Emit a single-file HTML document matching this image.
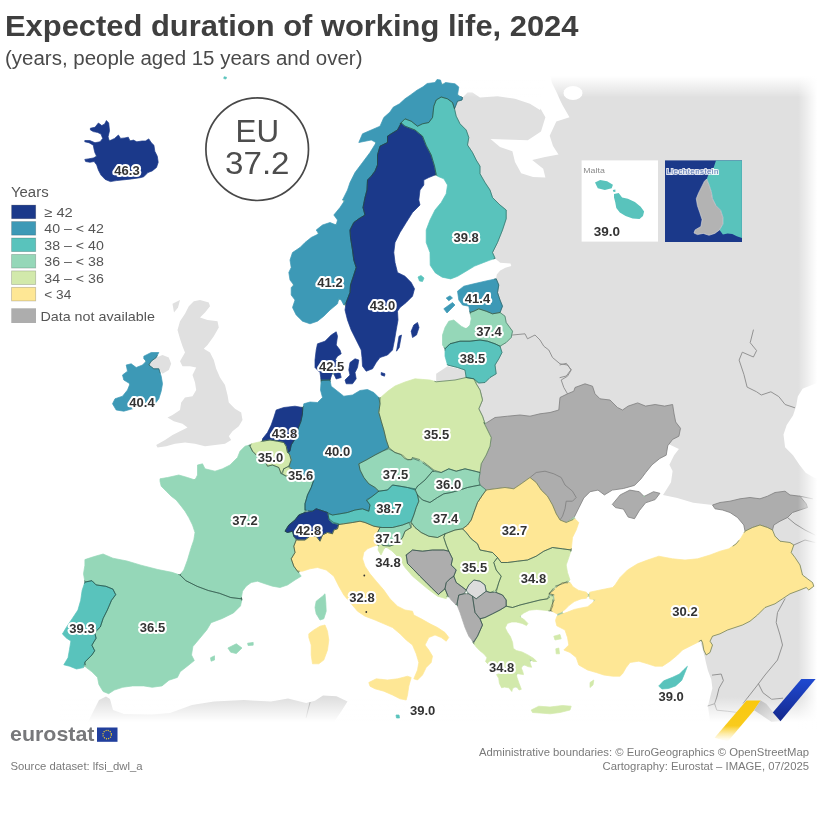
<!DOCTYPE html>
<html><head><meta charset="utf-8"><title>Expected duration of working life, 2024</title>
<style>
html,body{margin:0;padding:0;background:#fff;}
body{width:820px;height:820px;position:relative;overflow:hidden;font-family:"Liberation Sans",sans-serif;}
.t{position:absolute;white-space:nowrap;transform-origin:0 0;}
#title{left:4.6px;top:9.3px;font-size:30px;font-weight:bold;color:#3f3f3f;transform:scaleX(1.030);}
#sub{left:5px;top:47.1px;font-size:20px;color:#4a4a4a;transform:scaleX(1.024);}
svg{position:absolute;left:0;top:0;}
#wrap{position:absolute;left:0;top:0;width:820px;height:820px;filter:blur(.7px);}
.lab{font:bold 13px "Liberation Sans",sans-serif;fill:#333;stroke:#fff;stroke-width:4.1px;paint-order:stroke;stroke-linejoin:round;text-anchor:middle;}
.leg{font:13.5px "Liberation Sans",sans-serif;fill:#555;}
.foot{font:11px "Liberation Sans",sans-serif;fill:#7a7a7a;}
</style></head><body>
<div id="wrap">
<div class="t" id="title">Expected duration of working life, 2024</div>
<div class="t" id="sub">(years, people aged 15 years and over)</div>
<svg width="820" height="820" viewBox="0 0 820 820">
<defs>
<linearGradient id="fT" x1="0" y1="0" x2="0" y2="1"><stop offset="0" stop-color="#fff" stop-opacity="1"/><stop offset="1" stop-color="#fff" stop-opacity="0"/></linearGradient>
<linearGradient id="fB" x1="0" y1="1" x2="0" y2="0"><stop offset="0" stop-color="#fff" stop-opacity="1"/><stop offset="1" stop-color="#fff" stop-opacity="0"/></linearGradient>
<linearGradient id="fR" x1="1" y1="0" x2="0" y2="0"><stop offset="0" stop-color="#fff" stop-opacity="1"/><stop offset="1" stop-color="#fff" stop-opacity="0"/></linearGradient>
<linearGradient id="gy" x1="0" y1="0" x2="0" y2="1"><stop offset="0" stop-color="#f9c80e"/><stop offset=".62" stop-color="#f9cb1c"/><stop offset="1" stop-color="#fde27a" stop-opacity="0"/></linearGradient>
<linearGradient id="gb" x1="0" y1="0" x2="0" y2="1"><stop offset="0" stop-color="#1f49d1"/><stop offset="1" stop-color="#14288c"/></linearGradient>
<linearGradient id="gg" x1="0" y1="0" x2="1" y2="1"><stop offset="0" stop-color="#b9b9b9"/><stop offset="1" stop-color="#f2f2f2"/></linearGradient>
</defs>

<g>
<path d="M462.5 97.5 L467.5 92.5 L472.5 92.5 L480 97.5 L497.5 96.2 L515 98.7 L530 103.7 L540 110 L546 100 L546 76 L820 76 L820 722 L710 722 L709.1 714.6 L708 705.8 L710.2 697 L712.4 688.3 L711.3 679.5 L708 670.7 L705.8 662 L704.7 656.5 L700 640 L690 600 L720 560 L750 532 L742 519.5 L731 511.5 L722 508.5 L715 507 L712.5 505 L693.2 502.8 L677.3 498 L663 494.9 L666.2 490.1 L671 482.2 L672.6 471.1 L669.4 464.8 L674.1 455.2 L678.9 448.9 L660 440 L600 430 L520 430 L470 420 L468 372 L485 330 L488 295 L496 278.9 L496.8 274.6 L500.2 270.4 L505.4 267.8 L511.3 266.1 L510.5 263.5 L500.2 262.7 L495.1 258.4 L490 245 L492 220 L472 175 L455 125 L451 108 L455 101Z" fill="#e0e0e0"/>
<path d="M88 722 L99 700 L106 696.5 L110 699 L113 710 L124 714 L152 714.5 L170 713 L192 705 L214 701.6 L244 700 L271 701.6 L288 698.5 L306 703 L315 700.7 L323 695.5 L336.5 696.3 L347.5 701.6 L341 711.7 L334 722Z" fill="#dedede"/>
<path d="M541 109.5 L541 100 L546 76 L550.5 76 L552 83 L556.5 92 L560 100 L563 106 L569.5 117.2 L556.3 121.6 L549.7 135.8 L553 146 L558.5 154.5 L545 157 L532.2 160 L543.2 168.8 L545.4 177.5 L533 177 L521.2 173.2 L515 162 L512.4 151.2 L500 147 L490.5 139.1 L505 139.5 L527.8 140.2 L541 131.5 L545.4 117.2Z" fill="#ffffff"/>
<path d="M582.5 93 L581.8 95.7 L579.7 97.9 L576.6 99.5 L573 100 L569.4 99.5 L566.3 97.9 L564.2 95.7 L563.5 93 L564.2 90.3 L566.3 88.1 L569.4 86.5 L573 86 L576.6 86.5 L579.7 88.1 L581.8 90.3Z" fill="#ffffff"/>
<path d="M823.2 380.7 L810.5 385.5 L802.6 388.7 L797.8 396.6 L796.2 406.1 L793 415.6 L786.7 425.1 L783.5 434.6 L785.1 447.3 L793 455.2 L799.4 464.8 L805.7 472.7 L813.7 477.4 L823.2 479.7Z" fill="#ffffff"/>
</g>
<g fill="none" stroke-linejoin="round" stroke-linecap="round">
<path d="M512.5 335 L525 333.8 L527.5 338.8 L535 335 L540 340 L543.8 346.2 L548.8 350 L552.5 357.5 L560 363.8 L567.5 365 L571.2 370 L567.5 376.2 L561.2 380 L563.8 387.5 L567.5 393.8" stroke="#8e8e8e" stroke-width="0.95"/>
<path d="M476.2 383.8 L480 390 L482.5 400 L478.8 408.8 L482.5 416.2 L485 423.8" stroke="#8e8e8e" stroke-width="0.95"/>
<path d="M753.4 330 L750.2 342.7 L756.6 350.6 L753.4 357 L742.3 352.2 L739.1 360.1 L743.9 374.4 L747.1 387.1 L756.6 391.8 L761.3 395 L770.9 391.8 L778.8 396.6 L785.1 404.5 L794.6 407.7" stroke="#8e8e8e" stroke-width="0.95"/>
<path d="M560 364.9 L566.3 363.3 L571.1 369.6 L566.3 376 L560 377.6" stroke="#8e8e8e" stroke-width="0.95"/>
<path d="M785 598.8 L777.5 612.5 L776.2 622.5 L780 635 L782.5 645 L777.5 660 L765 675 L757.5 685 L749.8 694.9 L743.2 703.2" stroke="#8e8e8e" stroke-width="0.95"/>
<path d="M758.5 683.9 L762.9 692.7 L771.7 699.3 L782.7 698.2" stroke="#8e8e8e" stroke-width="0.95"/>
<path d="M712.4 675.1 L721.2 674 L723.4 680.6 L719 688.3 L716.8 697.1 L714.6 703.7 L708 705.9" stroke="#8e8e8e" stroke-width="0.95"/>
<path d="M714.6 703.7 L716.8 710.2 L727.8 711.3 L736.6 712.4" stroke="#8e8e8e" stroke-width="0.95"/>
<path d="M775 536.2 L780 541.2" stroke="#8e8e8e" stroke-width="0.95"/>
<path d="M787.5 517.5 L795 523.8 L805 530 L815 535" stroke="#8e8e8e" stroke-width="0.95"/>
<path d="M793.8 545 L805 540 L815 542.5" stroke="#8e8e8e" stroke-width="0.95"/>
<path d="M800 496.2 L812.5 498.8" stroke="#8e8e8e" stroke-width="0.95"/>
<path d="M310 702.5 L308 710 L306.2 717.5" stroke="#888" stroke-width="0.7"/>
</g>
<g stroke="#7d7d7d" stroke-width=".8" stroke-linejoin="round">
<path d="M485 423.8 L495 417.5 L507.5 416.2 L520 415 L530 416.2 L540 413.8 L550 412.5 L558.8 410 L560 397.5 L567.5 393.8 L573.8 391.2 L575 387.5 L585 383.8 L592.5 386.2 L595 393.8 L600 398.8 L610 400 L617.5 407.5 L622.5 410 L628.2 406.1 L637.7 402.9 L645.6 406.1 L655.1 404.5 L664.6 406.1 L672.6 404.5 L674.1 414 L675.7 422 L680.5 428.3 L678.9 436.2 L672.6 439.4 L667.8 445.7 L666.2 455.2 L659.9 458.4 L652 464.8 L645.6 472.7 L640.9 479 L634.5 485.4 L623.4 488.5 L612.3 490.1 L604.4 494.9 L598 490.1 L590.1 491.7 L583.8 498 L579 507.6 L574.3 517.1 L566.2 522.5 L560 520 L556.2 513.8 L552.5 505 L547.5 496.2 L541.2 490 L536.2 482.5 L530 477.5 L521.2 483.8 L513.8 488.8 L505 487.5 L495 488.8 L486.2 490 L480 485 L478.8 480 L480 472.5 L481.2 463.8 L486.2 455 L490 446.2 L491.2 437.5 L487.5 430 L483.8 422.5Z" fill="#adadad"/>
<path d="M530 477.5 L536.2 472.5 L545 471.2 L553.8 473.8 L561.2 477.5 L565 485 L572.5 491.2 L576.2 497.5 L572.5 501.2 L566.2 501.2 L565 508.8 L562.5 516.2 L560 520 L556.2 513.8 L552.5 505 L547.5 496.2 L541.2 490 L536.2 482.5Z" fill="#adadad"/>
<path d="M612.3 504.4 L620.2 494.9 L629.8 490.1 L639.3 491.7 L644 496.5 L653.5 491.7 L659.9 493.3 L655.1 499.6 L645.6 502.8 L639.3 510.7 L634.5 518.7 L628.2 517.1 L623.4 509.1 L615.5 507.6Z" fill="#adadad"/>
<path d="M712.5 505 L720 502.5 L730 501.2 L740 498.8 L750 497.5 L760 498.8 L767.5 496.2 L775 492.5 L785 491.2 L790 495 L800 496.2 L806.2 503.8 L807.5 507.5 L800 510 L792.5 512.5 L787.5 517.5 L780 521.2 L773.8 525 L772.5 530 L767.5 527.5 L760 525 L752.5 527.5 L745 531.2 L743.8 525 L737.5 517.5 L730 512.5 L722.5 510 L715 508.8Z" fill="#adadad"/>
</g>
<rect x="430" y="76" width="390" height="21.5" fill="url(#fT)"/><rect x="430" y="60" width="390" height="16.2" fill="#fff"/>
<rect x="798" y="70" width="19.2" height="660" fill="url(#fR)"/><rect x="817" y="70" width="3" height="660" fill="#fff"/>
<rect x="60" y="697" width="760" height="25" fill="url(#fB)"/>
<g>
<path d="M151.2 361.2 L156.2 357.5 L162.5 355 L168.8 357.5 L171.2 363.8 L168.8 370 L162.5 373.8 L158.8 368.8 L153.8 368.8 L148.8 365Z" fill="#e0e0e0"/>
<path d="M193.8 301.2 L200 300 L208.8 302.5 L210 306.2 L205 312.5 L200 317.5 L207.5 320 L217.5 321.2 L218.8 327.5 L213.8 336.2 L207.5 345 L203.8 348.8 L210 352.5 L213.8 360 L216.2 368.8 L220 377.5 L225 385 L227.5 395 L228.8 402.5 L235 408.8 L241.2 412.5 L242.5 420 L238.8 426.2 L232.5 431.2 L228.8 436.2 L231.2 440 L225 443.8 L215 445 L205 446.2 L195 443.8 L185 442.5 L175 443.8 L166.2 446.2 L157.5 447.5 L156.2 445 L165 440 L172.5 435 L180 431.2 L187.5 427.5 L182.5 423.8 L173.8 421.2 L167.5 417.5 L172.5 415 L180 410 L181.2 402.5 L185 397.5 L192.5 396.2 L196.2 390 L195 382.5 L192.5 375 L196.2 367.5 L190 366.2 L182.5 366.2 L180 361.2 L185 352.5 L182.5 346.2 L180 338.8 L177.5 330 L180 321.2 L185 313.8 L188.8 306.2Z" fill="#e0e0e0"/>
<path d="M172.5 303.8 L180 300 L178 307.5 L174 312.5Z" fill="#e0e0e0"/>
<path d="M436.2 373.8 L447.5 366.2 L465 370 L466.2 377.5 L455 380 L436.2 382Z" fill="#e0e0e0"/>
</g>
<path d="M110.9 140.0 L109.6 139.9 L109.0 139.1 L108.4 139.3 L109.1 141.4 L110.9 140.6 L110.9 140.0Z M131.4 140.5 L130.3 140.2 L129.7 139.6 L129.2 139.9 L129.9 141.4 L131.4 141.0 L131.4 140.5Z M95.8 154.9 L95.8 156.1 L95.1 156.8 L95.5 157.3 L97.1 156.4 L96.4 154.8 L95.8 154.9Z M317.6 232.3 L317.7 233.6 L317.1 234.4 L317.4 234.9 L319.2 233.8 L318.2 232.2 L317.6 232.3Z M292.8 283.9 L292.9 285.1 L292.6 285.8 L293.0 286.2 L294.2 285.0 L293.3 283.7 L292.8 283.9Z M144.9 360.1 L145.3 361.3 L144.9 362.2 L145.4 362.5 L146.6 361.2 L145.4 359.9 L144.9 360.1Z M150.1 365.8 L149.6 364.7 L149.8 363.8 L149.3 363.6 L148.4 365.1 L149.7 366.1 L150.1 365.8Z M336.2 372.7 L335.8 372.1 L335.9 371.4 L336.5 370.8 L336.4 370.4 L335.9 370.3 L332.2 372.2 L331.4 374.7 L331.7 375.1 L333.1 374.3 L334.3 375.0 L334.6 374.6 L334.4 374.1 L337.2 373.4 L337.2 372.8 L336.2 372.7Z M129.3 384.1 L129.2 385.0 L129.8 385.2 L130.3 383.6 L129.0 382.8 L128.7 383.2 L129.3 384.1Z M302.5 412.9 L302.9 412.6 L303.8 406.3 L303.4 405.9 L302.7 406.8 L301.8 407.0 L301.5 407.4 L302.1 407.8 L302.1 412.5 L302.5 412.9Z M297.9 430.2 L301.6 421.3 L302.3 416.3 L302.0 415.8 L301.6 416.1 L300.4 421.1 L297.1 429.9 L297.4 430.4 L297.9 430.2Z M261.1 441.3 L261.3 441.8 L262.9 441.4 L262.8 439.9 L262.4 439.8 L261.1 441.3Z M251.0 443.9 L249.6 444.9 L249.6 446.3 L249.9 446.6 L250.3 446.4 L251.3 444.4 L251.0 443.9Z M289.2 452.5 L289.5 451.7 L289.1 451.3 L287.1 452.5 L289.5 454.8 L289.8 454.4 L289.2 452.5Z M291.6 460.1 L291.4 459.6 L290.8 459.8 L288.4 466.1 L289.0 466.9 L289.5 466.6 L291.6 460.1Z M286.1 476.5 L286.2 476.6 L291.2 476.6 L291.6 476.3 L292.9 469.6 L292.6 469.1 L292.1 469.4 L290.9 474.7 L286.3 475.8 L283.0 473.6 L284.2 468.9 L283.9 468.4 L283.4 468.6 L280.8 473.9 L286.0 476.6 L286.1 476.5Z M194.6 479.3 L193.7 479.3 L193.6 479.9 L195.2 480.3 L195.9 478.9 L195.5 478.6 L194.6 479.3Z M312.6 510.8 L305.1 509.6 L304.6 510.0 L304.6 512.5 L304.9 512.9 L312.6 511.6 L312.9 511.3 L312.6 510.8Z M327.4 512.1 L327.1 512.6 L328.4 518.9 L329.2 519.3 L329.4 518.9 L328.5 514.4 L332.4 515.4 L332.9 514.9 L327.4 512.1Z M294.1 535.9 L293.6 535.9 L293.4 536.3 L295.9 540.2 L297.8 540.3 L297.8 539.8 L294.1 535.9Z M298.8 573.6 L299.3 573.5 L299.3 572.1 L300.4 571.5 L300.4 570.9 L297.2 570.9 L297.2 571.4 L298.8 573.6Z M178.9 574.4 L178.8 574.9 L180.4 575.4 L180.9 574.2 L180.6 573.9 L178.9 574.4Z M241.7 597.3 L241.1 597.3 L240.9 599.1 L242.1 599.3 L242.4 599.0 L241.7 597.3Z M84.5 661.9 L83.2 667.0 L83.6 667.4 L84.9 666.5 L86.0 667.4 L86.6 667.1 L85.3 661.9 L85.0 661.6 L84.5 661.9Z M443.7 83.6 L442.5 83.8 L441.7 82.9 L441.2 83.0 L441.7 85.3 L442.2 85.3 L443.8 84.2 L443.7 83.6Z M457.4 93.8 L457.2 95.3 L458.4 95.8 L458.8 95.4 L458.0 93.8 L457.4 93.8Z M374.5 141.8 L375.2 142.9 L375.1 143.9 L375.6 144.1 L376.6 142.3 L375.0 141.5 L374.5 141.8Z M436.8 175.7 L437.2 175.3 L436.2 174.1 L434.9 174.7 L435.0 175.2 L436.8 175.7Z M342.5 199.6 L342.2 200.1 L343.4 200.9 L343.3 202.1 L343.7 202.4 L345.4 199.9 L345.0 199.6 L342.5 199.6Z M335.6 224.1 L334.6 224.1 L334.5 224.7 L336.4 225.3 L337.0 223.5 L336.5 223.2 L335.6 224.1Z M339.4 299.8 L340.4 299.9 L340.6 299.3 L338.6 298.5 L338.0 300.4 L338.4 300.8 L339.4 299.8Z M343.5 304.8 L343.5 305.2 L344.8 305.5 L345.3 306.7 L345.9 306.7 L346.4 302.2 L345.9 302.2 L343.5 304.8Z M336.7 360.7 L336.0 359.6 L336.2 358.6 L335.7 358.4 L334.6 360.2 L336.3 361.1 L336.7 360.7Z M380.6 397.1 L379.7 397.4 L378.7 397.1 L378.4 397.7 L379.6 403.9 L380.1 404.2 L380.4 403.8 L380.4 398.2 L380.9 397.4 L380.6 397.1Z M382.3 450.9 L382.1 451.3 L382.6 451.6 L388.8 449.2 L394.8 452.9 L395.4 452.6 L388.9 447.1 L382.3 450.9Z M409.8 459.7 L409.5 459.3 L406.6 458.7 L406.2 459.0 L407.4 460.4 L409.4 460.0 L409.8 459.7Z M413.8 459.2 L419.8 461.6 L427.3 466.5 L432.7 470.8 L432.1 471.1 L432.3 471.6 L441.1 472.9 L441.6 472.6 L441.4 472.1 L434.0 469.6 L421.4 459.6 L412.5 457.1 L412.2 457.3 L411.3 459.0 L411.6 459.6 L413.8 459.2Z M365.8 499.9 L369.7 505.2 L370.2 505.3 L370.4 504.8 L367.5 500.6 L372.8 496.5 L372.6 495.8 L365.8 499.9Z M414.2 515.1 L414.0 514.7 L413.4 514.8 L410.9 521.0 L410.3 521.7 L408.7 522.2 L408.5 522.8 L410.9 527.7 L411.4 527.9 L411.6 527.5 L411.6 522.6 L414.2 515.1Z M338.7 524.1 L338.3 524.3 L337.1 528.7 L337.4 529.2 L337.9 529.0 L339.2 524.6 L338.7 524.1Z M373.7 526.6 L379.9 527.9 L382.5 527.9 L382.9 527.4 L382.6 527.1 L373.9 525.8 L373.4 526.1 L373.7 526.6Z M437.6 537.1 L428.9 535.8 L421.4 532.1 L420.9 532.3 L421.0 532.8 L428.6 536.6 L437.4 537.9 L437.9 537.6 L437.6 537.1Z M445.8 545.1 L448.3 551.3 L448.9 551.6 L449.2 551.1 L446.6 544.9 L444.2 537.5 L445.4 533.9 L445.1 533.4 L444.6 533.7 L443.3 537.6 L445.8 545.1 L445.8 545.1Z M377.1 532.5 L378.4 540.0 L377.2 544.7 L376.4 545.1 L376.6 545.6 L377.9 545.9 L378.3 547.0 L378.8 546.9 L379.6 542.0 L377.9 532.4 L377.5 532.1 L377.1 532.5Z M386.2 547.8 L387.0 548.0 L387.3 547.5 L385.9 546.6 L384.9 547.7 L385.1 548.1 L386.2 547.8Z M413.2 569.8 L428.8 585.7 L429.4 585.7 L429.4 585.1 L413.8 569.2 L413.2 569.2 L413.2 569.8Z M446.3 597.3 L446.6 597.7 L447.8 596.9 L448.9 597.4 L449.4 597.0 L447.6 594.6 L447.1 594.8 L446.3 597.3Z M455.8 604.9 L455.9 605.3 L456.8 605.6 L457.3 606.5 L457.9 606.4 L457.9 601.2 L457.7 600.8 L457.1 601.1 L455.8 604.9Z M500.2 311.2 L499.7 312.7 L500.8 313.5 L501.2 313.2 L500.7 311.4 L500.2 311.2Z M465.2 328.0 L465.0 328.5 L466.4 329.2 L467.3 328.2 L467.0 327.7 L465.2 328.0Z M501.3 345.7 L500.9 345.3 L499.6 346.1 L500.1 347.5 L500.6 347.5 L501.3 345.7Z M465.8 375.9 L465.4 377.1 L464.6 377.6 L464.8 378.1 L466.6 377.7 L466.3 376.0 L465.8 375.9Z M473.6 378.5 L473.4 378.9 L475.9 384.0 L476.5 384.9 L477.0 384.6 L476.8 383.6 L477.2 383.1 L477.8 382.9 L478.6 383.2 L478.9 382.6 L474.1 378.5 L473.6 378.5Z M485.3 422.6 L484.6 421.8 L484.1 422.1 L484.9 424.2 L486.7 423.1 L486.7 422.6 L485.3 422.6Z M643.3 495.4 L642.9 495.9 L644.0 496.9 L645.2 496.2 L645.1 495.8 L643.3 495.4Z M574.6 517.8 L574.7 516.8 L574.3 516.6 L566.0 522.2 L565.9 522.7 L566.4 522.9 L575.2 519.1 L575.4 518.6 L574.6 517.8Z M564.1 582.8 L564.4 583.2 L570.0 583.2 L570.3 582.7 L569.0 581.7 L569.1 581.1 L569.7 580.4 L569.3 579.9 L564.3 582.4 L564.1 582.8Z M498.9 582.1 L498.4 582.3 L495.9 589.7 L489.8 592.1 L489.6 592.7 L490.0 592.9 L496.5 592.8 L499.2 582.6 L498.9 582.1Z M549.5 593.2 L550.0 593.2 L553.1 591.2 L557.1 587.1 L559.9 585.0 L559.9 584.5 L559.5 584.3 L554.7 585.9 L549.7 592.3 L549.5 593.2Z M463.4 593.9 L463.8 594.2 L466.2 594.2 L466.3 594.1 L469.1 594.1 L469.2 593.6 L467.7 591.5 L467.5 591.5 L466.3 589.6 L465.9 589.8 L464.8 591.5 L464.8 591.7 L463.4 593.9Z M465.4 591.8 L466.2 591.5 L467.1 592.0 L467.1 592.9 L466.2 593.5 L465.4 592.9 L465.4 591.8Z M587.3 597.1 L588.0 596.5 L588.7 596.4 L589.7 597.7 L590.1 597.3 L590.1 593.1 L589.6 592.8 L589.0 593.8 L588.5 594.1 L587.4 593.4 L586.9 593.6 L587.5 595.2 L586.8 596.7 L587.3 597.1Z M552.1 595.8 L552.4 602.9 L552.7 603.3 L553.1 603.1 L555.2 599.0 L554.6 594.8 L554.3 594.5 L549.3 593.4 L547.1 598.7 L547.3 599.1 L547.7 599.1 L552.1 595.8Z M593.1 598.9 L592.7 599.3 L593.8 600.3 L593.4 601.5 L593.8 601.9 L596.2 599.6 L595.9 599.2 L593.1 598.9Z M564.2 613.4 L562.6 612.7 L562.6 611.9 L563.1 611.1 L562.7 610.7 L560.7 611.9 L556.6 613.4 L556.4 613.8 L557.6 614.8 L557.5 615.5 L556.9 616.1 L557.3 616.6 L564.0 613.8 L564.2 613.4Z M521.3 617.8 L520.6 616.6 L521.0 615.6 L520.7 615.1 L518.7 616.7 L518.9 617.1 L520.8 618.1 L521.3 617.8Z M701.1 641.1 L701.8 641.7 L702.3 641.3 L701.2 639.6 L699.7 640.6 L699.7 641.1 L701.1 641.1Z M529.6 662.0 L530.1 662.2 L530.8 660.8 L532.1 661.0 L532.4 660.5 L529.3 658.1 L529.0 658.5 L529.6 662.0Z M522.8 665.8 L523.9 665.2 L524.8 665.3 L524.9 664.8 L523.3 664.0 L522.5 665.4 L522.8 665.8Z M513.7 668.1 L513.2 668.3 L513.8 669.7 L512.9 670.7 L513.1 671.2 L516.4 670.1 L516.2 669.7 L513.7 668.1Z M516.7 675.5 L517.2 674.3 L518.3 674.0 L518.5 673.5 L516.1 672.8 L515.8 673.2 L516.2 675.3 L516.7 675.5Z M516.2 687.2 L516.9 687.6 L517.3 687.2 L516.2 685.9 L514.9 686.7 L515.0 687.2 L516.2 687.2Z" fill="#9fc7a6"/>
<g stroke-width=".7" stroke-linejoin="round">
<path d="M90.4 128.2 L95 127.3 L98.4 123 L101.8 125.6 L104.7 123.9 L106.4 120.5 L108.7 123 L109.5 130.7 L108.1 136.7 L109.2 141 L114.6 138.4 L118.4 135 L120.6 138.4 L124.9 137.9 L128.3 137.2 L130 141 L133.4 140.1 L136.8 141.8 L142 141 L145.4 141 L148.8 138.9 L151.3 142.7 L153.9 145.2 L154.8 151.2 L157.3 156.3 L158.2 162.3 L156.5 167.4 L152.2 170.9 L147.9 172.6 L143.7 176.8 L140.2 177.7 L131.7 178.9 L124.9 179.7 L116.3 180.6 L110.4 181.6 L105.2 179.4 L101 175.1 L98.4 170 L96.7 164.9 L94.1 161.5 L89.9 162.3 L85.6 161.5 L84.8 159.4 L88.2 158.9 L93.3 158 L96.7 156.3 L95 152.9 L94.1 149.5 L93.3 145.2 L89 142.7 L84.8 141.8 L84.8 140.5 L89.9 140.6 L95 142.7 L100.1 141.8 L102.7 138.4 L101 134.1 L97.6 132.4 L93.3 131.6 L90.4 129.9Z" fill="#1b398a" stroke="#1b398a"/>
<path d="M346.2 302.5 L343.8 305 L341.2 300 L338.8 298.8 L337.5 303.8 L330 310 L323.8 316.2 L317.5 321.2 L310 323.8 L302.5 321.2 L296.2 315 L292.5 307.5 L295 300 L291.2 295 L291.2 287.5 L293.8 285 L290 280 L288.8 272.5 L291.2 267.5 L290 260 L292.5 252.5 L300 247.5 L305 242.5 L311.2 237.5 L318.8 233.8 L316.2 230 L322.5 225 L330 222.5 L336.2 225 L337.5 220 L333.8 215 L340 207.5 L345 200 L342.5 200 L347.5 190 L350 182.5 L355 172.5 L362.5 162.5 L370 152.5 L376.2 142.5 L371.2 140 L358.8 142.5 L362.5 133.8 L380 126.2 L383.8 117.5 L390 112 L393.2 107.2 L399.5 103.8 L405 98.8 L410.2 95.2 L417 90.2 L423 86.8 L427.2 83.5 L435 82.5 L437 79.5 L440.5 80 L442 85 L445.5 82.5 L455 83.8 L458.8 87 L457.5 95 L462.5 97.5 L462 100 L457.5 101.2 L454.5 108.8 L452.5 102.5 L447.5 98.8 L441.2 97 L436.2 100 L433.8 106.2 L432.5 117.5 L428.8 122.5 L422.5 123.8 L417.5 126.2 L411.2 121.2 L405 118.8 L400 123.8 L401.2 123 L397.5 130 L391.2 133.8 L387.5 136.2 L387.5 142.5 L380 146.2 L377.5 155 L377.5 165 L375 171.2 L371.2 176.2 L367.5 180 L367 190 L365 197.5 L363 207.5 L365 215 L358.8 218.8 L353.8 222.5 L350 230 L350.5 237.5 L352.5 250 L353.8 260 L356.2 267.5 L353.8 275 L350.5 285 L350 292.5Z" fill="#3d99b6" stroke="#3d99b6"/>
<path d="M401.2 123 L405 126.2 L415 130 L422.5 136.2 L426.2 145.5 L431.2 155 L434.5 166.2 L436.2 174.5 L428.8 177.5 L423.8 180 L423.8 185 L420 190 L418.8 200 L420 205 L412.5 212.5 L406.2 222.5 L400 232.5 L395 242.5 L393.8 252.5 L395 262.5 L397.5 272.5 L405 276.2 L411.2 282.5 L414.5 288.8 L412.5 296.2 L406.2 302.5 L400 307.5 L397.5 311.2 L398 320 L396.2 330 L394.5 340 L392.5 350 L387.5 355 L380 357.5 L376.2 362.5 L372.5 368.8 L366.2 371.2 L362.5 366.2 L362 357.5 L361.2 350 L356.2 340 L351.2 330 L347.5 320 L345 310 L346.2 302.5 L350 292.5 L350.5 285 L353.8 275 L356.2 267.5 L353.8 260 L352.5 250 L350.5 237.5 L350 230 L353.8 222.5 L358.8 218.8 L365 215 L363 207.5 L365 197.5 L367 190 L367.5 180 L371.2 176.2 L375 171.2 L377.5 165 L377.5 155 L380 146.2 L387.5 142.5 L387.5 136.2 L391.2 133.8 L397.5 130Z" fill="#1b398a" stroke="#1b398a"/>
<path d="M413.8 325 L417.5 322.5 L419 327.5 L416.5 335 L412.5 337.5 L411.2 331.2Z" fill="#1b398a" stroke="#1b398a"/>
<path d="M399 336.2 L401.5 335 L399.2 347.5 L396.5 351.2Z" fill="#1b398a" stroke="#1b398a"/>
<path d="M400 123.8 L405 118.8 L411.2 121.2 L417.5 126.2 L422.5 123.8 L428.8 122.5 L432.5 117.5 L433.8 106.2 L436.2 100 L441.2 97 L447.5 98.8 L452.5 102.5 L454.5 108.8 L456.2 116.2 L460 123.8 L466.2 130 L468.8 137.5 L467.5 145 L472.5 152.5 L476.2 160 L480 166.2 L480 173.8 L485 182.5 L490 190 L492.5 197.5 L500 205 L506.2 210 L506.2 218.8 L502.5 230 L497.5 242.5 L492.5 252.5 L495.1 258.4 L490 260.1 L483.2 262.7 L474.6 266.1 L466.1 271.2 L457.6 276.3 L450.7 278.9 L442.2 277.2 L435.4 272.9 L430.2 265.2 L430 252.5 L426.2 242.5 L426.2 230 L430 220 L435 210 L441.2 202.5 L446.2 193.8 L447.5 185 L443.8 178.8 L437.5 176.2 L436.2 174.5 L434.5 166.2 L431.2 155 L426.2 145.5 L422.5 136.2 L415 130 L405 126.2 L401.2 123Z" fill="#59c3bc" stroke="#59c3bc"/>
<path d="M336.2 331.8 L337.5 336.2 L336.2 345 L340 350 L341.2 353.8 L337.5 356.2 L335 360 L340 362.5 L342.5 366.2 L337.5 370 L332.5 372.5 L330 380 L321.2 380.5 L320 372.5 L315 367.5 L315 360 L316.2 350 L317.5 343.8 L325 341.2 L331.2 335Z" fill="#1b398a" stroke="#1b398a"/>
<path d="M350 362.5 L355 358.8 L358.8 360 L357.5 367.5 L355 372.5 L356.2 378.8 L352.5 383.8 L346.2 383.8 L345 380 L350 375 L348.8 370Z" fill="#1b398a" stroke="#1b398a"/>
<path d="M333.8 373.8 L340 372.5 L341.2 377.5 L336.2 379Z" fill="#1b398a" stroke="#1b398a"/>
<path d="M381.2 372.5 L385 373.8 L384.5 376.2 L381.2 375Z" fill="#1b398a" stroke="#1b398a"/>
<path d="M143.8 356.2 L151.2 352.5 L158.8 352.5 L156.2 357.5 L151.2 361.2 L148.8 365 L153.8 368.8 L158.8 368.8 L161.2 376.2 L162.5 383.8 L161.2 391.2 L158.8 398.8 L155 403.8 L147.5 405 L140 406.2 L132.5 408.8 L123.8 411.2 L116.2 410 L112.5 403.8 L115 398.8 L122.5 396.2 L127.5 390 L130 383.8 L123.8 380 L122.5 375 L127.5 371.2 L126.2 365 L131.2 363.8 L136.2 367.5 L142.5 365 L146.2 361.2 L143.8 358.8Z" fill="#3d99b6" stroke="#3d99b6"/>
<path d="M160 478.8 L167.5 477.5 L178.8 475 L187.5 477.5 L195 480 L197.5 475 L197.5 465 L202.5 463.8 L205 468.8 L215 471.2 L222.5 468.8 L230 465 L237.5 457.5 L240 451.2 L245 446.2 L250 445 L250 446.2 L252.5 451.2 L257.5 456.2 L265 461.2 L267.5 466.2 L272.5 465 L278.8 467.5 L281.2 473.8 L286.2 476.2 L291.2 476.2 L302.5 478 L313.8 480 L311.2 487.5 L307.5 495 L305 503.8 L305 510 L305 512.5 L298.8 515 L295 520 L288.8 525 L285 531.2 L287.5 532.5 L292.5 531.2 L293.8 536.2 L296.2 540 L293.8 546.2 L295 552.5 L291.2 558.8 L293.8 566.2 L297.5 571.2 L301.2 576.2 L295 580 L287.5 585 L280 587.5 L272.5 586.2 L265 583.8 L257.5 581.2 L251.2 582.5 L246.2 586.2 L242.5 591.2 L241.2 598.8 L242 598.9 L230.7 597.5 L219.5 593.3 L208.3 590.5 L197.1 586.3 L185.9 580.7 L180.2 575.1 L180 575 L183.8 570 L187.5 560 L191.2 547.5 L193.8 540 L195 532.5 L192.5 525 L188.8 517.5 L185 511.2 L181.2 506.2 L176.2 500 L171.2 496.2 L166.2 491.2 L161.2 486.2 L160 481.2Z" fill="#95d7b8" stroke="#95d7b8"/>
<path d="M316.2 601.2 L322.5 596.2 L325 593.8 L325.8 602.5 L326.2 611.2 L323.8 618.8 L320 620 L316.2 613.8 L315 607.5Z" fill="#95d7b8" stroke="#95d7b8"/>
<path d="M84.9 559.6 L93.3 556.8 L103.1 554 L112.9 558.2 L127 561 L141 565.2 L157.8 569.5 L171.8 572.3 L180.2 575.1 L185.9 580.7 L197.1 586.3 L208.3 590.5 L219.5 593.3 L230.7 597.5 L242 598.9 L240.5 605.9 L233.5 612.9 L222.3 618.5 L211.1 622.7 L206.9 629.8 L199.9 638.2 L192.9 646.6 L191.5 655 L194.3 660.6 L187.3 666.2 L180.2 671.8 L177.4 677.4 L169 680.2 L162 685.9 L152.2 687.3 L143.8 685.9 L132.6 685.9 L122.7 687.3 L114.3 690.1 L108.7 693.7 L103.1 691.5 L98.9 684.5 L97.5 677.4 L91.9 671.8 L86.3 667.6 L84.9 662 L91.9 655 L94.7 650.8 L91.9 645.2 L96.1 638.2 L94.7 632.6 L100.3 627 L103.1 618.5 L107.3 610.1 L111.5 600.3 L115.7 594.7 L112.9 589.1 L105.9 586.3 L96.1 584.9 L91.9 580.7 L84.9 582.1 L83.5 573.7 L84.9 565.2Z" fill="#95d7b8" stroke="#95d7b8"/>
<path d="M84.9 582.1 L91.9 580.7 L96.1 584.9 L105.9 586.3 L112.9 589.1 L115.7 594.7 L111.5 600.3 L107.3 610.1 L103.1 618.5 L100.3 627 L94.7 632.6 L96.1 638.2 L91.9 645.2 L94.7 650.8 L91.9 655 L84.9 662 L83.5 667.6 L76.5 669 L69.5 666.2 L63.8 664.8 L68 657.8 L69.5 649.4 L70.9 641 L66.6 638.2 L62.4 634 L66.6 627 L72.3 618.5 L77.9 610.1 L80.7 600.3 L82.1 590.5Z" fill="#59c3bc" stroke="#59c3bc"/>
<path d="M227.9 648 L236.3 643.8 L242 648 L236.3 653.6 L230.7 652.2Z" fill="#95d7b8" stroke="#95d7b8"/>
<path d="M247.6 643.2 L253.2 642.4 L253.2 645.2 L248.1 645.5Z" fill="#95d7b8" stroke="#95d7b8"/>
<path d="M210.5 657.8 L214.5 655.8 L214.5 660 L211.1 661.2Z" fill="#95d7b8" stroke="#95d7b8"/>
<path d="M321.2 380 L320.5 390 L322.5 397.5 L317.5 402.5 L310 402 L303.8 403.8 L302.5 412.5 L301.2 421.2 L297.5 430 L295 438.8 L291.2 445 L288.8 452.5 L291.2 460 L288.8 467.5 L292.5 469.5 L291.2 476.2 L302.5 478 L313.8 480 L311.2 487.5 L307.5 495 L305 503.8 L305 510 L312.5 511.2 L316.2 508.8 L320 510 L327.5 512.5 L332.5 515 L340 513.8 L347.5 512.5 L355 510 L362.5 508.8 L368.8 511.2 L370 505 L366.2 500 L372.5 496.2 L378.8 491.2 L375 487.5 L368.8 483.8 L363.8 477.5 L360 470 L358.8 463.8 L366.2 460 L375 455 L382.5 451.2 L388.8 447.5 L386.2 440 L383.8 430 L381.2 421.2 L378.8 412.5 L380 403.8 L378.8 397.5 L373.8 392.5 L367.5 389.5 L360 390.5 L352.5 395 L343.8 396.2 L337.5 391.2 L331.2 386.2 L330 380Z" fill="#3d99b6" stroke="#3d99b6"/>
<path d="M276.2 410 L283.8 407.5 L295 406.2 L302.5 407.5 L302.5 413.8 L300.8 421.2 L297.5 430 L295 438.8 L291.2 445 L290 451.2 L287.5 452.5 L286.2 446.2 L283.8 442.5 L277.5 441.2 L270 440 L262.5 441.2 L262.5 438.8 L267.5 432.5 L271.2 425 L273.8 417.5Z" fill="#1b398a" stroke="#1b398a"/>
<path d="M251.2 443.8 L262.5 441.2 L270 440 L277.5 441.2 L283.8 442.5 L286.2 446.2 L287.5 452.5 L290 455 L291.2 460 L288.8 466.2 L283.8 468.8 L281.2 473.8 L278.8 467.5 L272.5 465 L267.5 466.2 L265 461.2 L257.5 456.2 L252.5 451.2 L250 446.2Z" fill="#d2e9ab" stroke="#d2e9ab"/>
<path d="M283.8 468.8 L288.8 466.2 L292.5 469.5 L291.2 475 L286.2 476.2 L282.5 473.8Z" fill="#d2e9ab" stroke="#d2e9ab"/>
<path d="M285 531.2 L288.8 525 L295 520 L298.8 515 L305 512.5 L312.5 511.2 L316.2 508.8 L320 510 L327.5 512.5 L328.8 518.8 L333.8 522.5 L338.8 523.8 L337.5 528.8 L333.8 530 L332.5 533.8 L327.5 532.5 L322.5 535 L320 541.2 L316.2 536.2 L310 536.2 L305 540 L297.5 540 L293.8 536.2 L292.5 531.2 L287.5 532.5Z" fill="#1b398a" stroke="#1b398a"/>
<path d="M358.8 463.8 L366.2 460 L375 455 L382.5 451.2 L388.8 448.8 L395 452.5 L402.5 455 L407.5 460 L413.8 458.8 L420 461.2 L427.5 466.2 L433.8 471.2 L432.5 471.2 L425 480 L417.5 486.2 L415 490 L407.5 487.5 L400 486.2 L392.5 485 L387.5 490 L378.8 491.2 L375 487.5 L368.8 483.8 L363.8 477.5 L360 470Z" fill="#95d7b8" stroke="#95d7b8"/>
<path d="M378.8 491.2 L387.5 490 L392.5 485 L400 486.2 L407.5 487.5 L415 488.8 L417.5 495 L418.8 501.2 L416.2 507.5 L413.8 515 L411.2 521.2 L410.5 522 L402.5 525 L392.5 527.5 L382.5 527.5 L373.8 526.2 L365 522.5 L360 521.2 L352.5 522.5 L343.8 523.8 L338.8 524.5 L332.5 523 L329.2 520 L328 513.8 L332.5 515 L340 513.8 L347.5 512.5 L355 510 L362.5 508.8 L368.8 511.2 L370 505 L367 500.5 L372.5 496.2Z" fill="#59c3bc" stroke="#59c3bc"/>
<path d="M380 527.5 L392.5 527.5 L402.5 525 L408.8 522.5 L411.2 527.5 L405 531.2 L402.5 537.5 L398 543 L390 546 L383 545.5 L379.2 542 L377.5 532.5Z" fill="#95d7b8" stroke="#95d7b8"/>
<path d="M380 403.8 L380 398 L388 391 L395 386 L405 382 L415 378.8 L430 380 L436.2 381.8 L455 380 L466.2 377.5 L473.8 378.8 L476.2 383.8 L480 390 L482.5 400 L478.8 408.8 L482.5 416.2 L485 423.8 L483.8 422.5 L487.5 430 L491.2 437.5 L490 446.2 L486.2 455 L481.2 463.8 L480 472.5 L475 471.2 L465 468.8 L456.2 471.2 L448.8 468.8 L441.2 472.5 L433.8 470 L427.5 465 L421.2 460 L412.5 457.5 L411.2 460 L405 458.8 L400 453.8 L402.5 455 L395 452.5 L388.8 447.5 L386.2 440 L383.8 430 L381.2 421.2 L378.8 412.5Z" fill="#d2e9ab" stroke="#d2e9ab"/>
<path d="M296.2 540 L305 540 L310 536.2 L316.2 536.2 L320 541.2 L322.5 535 L327.5 532.5 L332.5 533.8 L333.8 530 L337.5 528.8 L338.8 524.5 L343.8 523.8 L352.5 522.5 L360 521.2 L365 522.5 L373.8 526.2 L380 527.5 L377.5 532.5 L378.8 540 L377.5 545 L373.8 546.2 L367.5 548.8 L363.8 552.5 L362.5 558.8 L365 566.2 L370 573.8 L376.2 581.2 L383.8 590 L390 598.8 L397.5 606.2 L405 610 L412.5 611.2 L413.8 615 L421.2 618.8 L430 623.8 L437.5 627.5 L445 632.5 L448.8 637.5 L446.2 641.2 L441.2 637.5 L435 635 L428.8 637.5 L425 645 L428.8 650 L432.5 656.2 L431.2 662.5 L426.2 667.5 L422.5 675 L417.5 680 L413.8 678.8 L417.5 670 L418.8 662.5 L416.2 653.8 L412.5 645 L406.2 640 L400 633.8 L392.5 627.5 L383.8 623.8 L375 620 L365 616.2 L357.5 611.2 L351.2 603.8 L343.8 595 L338.8 586.2 L333.8 576.2 L326.2 570 L317.5 567.5 L310 568.8 L302.5 571.2 L297.5 571.2 L293.8 566.2 L291.2 558.8 L295 552.5 L293.8 546.2Z" fill="#fee795" stroke="#fee795"/>
<path d="M368.8 682.5 L376.2 678.8 L387.5 680 L397.5 678.8 L407.5 676.2 L411.2 677.5 L408.8 686.2 L407.5 695 L406.2 700 L400 698.8 L392.5 695 L383.8 691.2 L375 688.8 L370 686.2Z" fill="#fee795" stroke="#fee795"/>
<path d="M308.8 633.8 L313.8 630 L320 626.2 L325 625 L327.5 631.2 L328.8 640 L327.5 650 L323.8 660 L318.8 663.8 L312.5 663.8 L311.2 655 L311.2 645 L308.8 637.5Z" fill="#fee795" stroke="#fee795"/>
<path d="M457.5 291.2 L463.8 286.2 L473.8 283.8 L485 281.2 L496.2 278.8 L498.8 285 L497.5 292.5 L500 300 L502.5 306.2 L500 312.5 L492.5 313.8 L486.2 311.2 L478.8 308.8 L473.8 311.2 L470 312.5 L468.8 306.2 L462.5 305 L458.8 300Z" fill="#3d99b6" stroke="#3d99b6"/>
<path d="M446.2 298 L450 295.8 L452.5 298 L448.8 300.8Z" fill="#3d99b6" stroke="#3d99b6"/>
<path d="M443.8 308.8 L452.5 302.5 L455 305 L447 313Z" fill="#3d99b6" stroke="#3d99b6"/>
<path d="M470 312.5 L473.8 311.2 L478.8 308.8 L486.2 311.2 L492.5 313.8 L500 312.5 L505 316.2 L506.2 322.5 L512.5 331.2 L511.2 337.5 L506.2 342.5 L500 346.2 L495 343.8 L487.5 341.2 L480 340 L470 341.2 L460 341.2 L450 343.8 L445 348.8 L442.5 345 L442.5 335 L445 327.5 L448.8 321.2 L453.8 320 L461.2 326.2 L466.2 328.8 L470 325 L471.2 318.8Z" fill="#95d7b8" stroke="#95d7b8"/>
<path d="M445 348.8 L450 343.8 L460 341.2 L470 341.2 L480 340 L487.5 341.2 L495 343.8 L500 346.2 L502 352.5 L498.8 358.8 L495 365 L496.2 373.8 L490 377.5 L485 382.5 L478.8 383 L473.8 378.8 L466.2 377.5 L465 370 L457.5 367.5 L447.5 365 L445 356.2Z" fill="#59c3bc" stroke="#59c3bc"/>
<path d="M417.5 486.2 L425 480 L432.5 471.2 L441.2 472.5 L448.8 468.8 L456.2 471.2 L465 468.8 L475 471.2 L480 472.5 L478.8 480 L480 485 L473.8 486.2 L467.5 487.5 L460 490 L451.2 492.5 L443.8 493.8 L437.5 497.5 L430 502.5 L422.5 500 L417.5 495 L415 490Z" fill="#95d7b8" stroke="#95d7b8"/>
<path d="M417.5 495 L422.5 500 L430 502.5 L437.5 497.5 L443.8 493.8 L451.2 492.5 L460 490 L467.5 487.5 L473.8 486.2 L480 485 L486.2 490 L482.5 495 L477.5 502.5 L473.8 512.5 L471.2 520 L467.5 525 L462.5 528.8 L455 530 L445 533.8 L437.5 537.5 L428.8 536.2 L421.2 532.5 L415 527.5 L411.2 522.5 L413.8 515 L416.2 507.5 L418.8 501.2Z" fill="#95d7b8" stroke="#95d7b8"/>
<path d="M486.2 490 L495 488.8 L505 487.5 L513.8 488.8 L521.2 483.8 L530 477.5 L536.2 482.5 L541.2 490 L547.5 496.2 L552.5 505 L556.2 513.8 L560 520 L566.2 522.5 L575 518.8 L578.8 522.5 L576.2 530 L572.5 537.5 L571.2 550 L562.5 548.8 L552.5 547.5 L543.8 551.2 L536.2 556.2 L527.5 560 L517.5 561.2 L507.5 562.5 L501.2 562.5 L497.5 557.5 L492.5 552.5 L486.2 551.2 L480 550 L477.5 543.8 L471.2 538.8 L466.2 532.5 L462.5 528.8 L467.5 525 L471.2 520 L473.8 512.5 L477.5 502.5 L482.5 495Z" fill="#fee795" stroke="#fee795"/>
<path d="M379.2 542 L378 550 L381 555 L384 549 L386 547 L392 551 L397 556 L400 560 L405 567.5 L412.5 576.2 L420 582.5 L427.5 588.7 L437.5 596.2 L446.2 598.7 L447.5 595 L445 588.7 L440 593 L438.5 594.5 L432.3 588.5 L426 582.3 L419.7 576 L413.5 569.5 L407.5 563.5 L406.2 555 L412.5 550 L422.5 551.2 L432.5 550 L443.7 550 L448.7 551.2 L446.2 545 L443.7 537.5 L445 533.7 L437.5 537.5 L428.7 536.2 L421.2 532.5 L415 527.5 L411.2 522.5 L411.2 527.5 L405 531.2 L402.5 537.5 L398 543 L390 546 L383 545.5Z" fill="#d2e9ab" stroke="#d2e9ab"/>
<path d="M445 533.8 L455 530 L462.5 528.8 L466.2 532.5 L471.2 538.8 L477.5 543.8 L480 550 L486.2 551.2 L492.5 552.5 L497.5 557.5 L493.8 562.5 L496.2 570 L501.2 576.2 L498.8 582.5 L496.2 590 L490 592.5 L486.2 591.2 L485 585 L480 581.2 L473.8 580 L468.8 585 L466.2 590 L461.2 586.2 L456.2 582.5 L453.8 576.2 L456.2 570 L451.2 565 L452.5 558.8 L448.8 551.2 L446.2 545 L443.8 537.5Z" fill="#d2e9ab" stroke="#d2e9ab"/>
<path d="M497.5 557.5 L501.2 562.5 L507.5 562.5 L517.5 561.2 L527.5 560 L536.2 556.2 L543.8 551.2 L552.5 547.5 L562.5 548.8 L571.2 550 L568.8 557.5 L566.2 565 L567.5 572.5 L570 580 L562.5 583.8 L555 586.2 L550 592.5 L547.5 598.8 L540 600 L530 602.5 L520 605 L512.5 607.5 L506.2 606.2 L506.2 600 L502.5 595 L496.2 592.5 L498.8 582.5 L501.2 576.2 L496.2 570 L493.8 562.5Z" fill="#d2e9ab" stroke="#d2e9ab"/>
<path d="M480 618.8 L485 617.5 L492.5 613.8 L500 610 L506.2 606.2 L512.5 607.5 L520 605 L530 602.5 L540 600 L547.5 598.8 L552.5 595 L552.8 600 L552.8 605.9 L550.6 611 L544 610.2 L536.7 609.5 L529.4 610.2 L523.5 613.2 L519.1 616.8 L523.5 619 L527.9 623.4 L526.5 625.6 L522.1 623.4 L516.2 622 L511.8 622 L507.4 623.4 L505.2 627.8 L507.4 632.2 L510.4 636.6 L512.6 642.4 L513.3 648.3 L516.2 650.5 L522.1 652 L527.9 654.9 L533.8 658.5 L536.7 661.5 L533.1 661.5 L529.4 658.5 L530.1 662.9 L531.6 667.3 L527.9 666.6 L523.5 664.4 L521.3 668.1 L522.8 671.7 L523.5 674.6 L519.1 673.9 L516.2 673.2 L517 677.6 L519.1 683.4 L521.3 689.3 L519.1 690 L516.2 686.3 L512.6 688.5 L511.8 691.5 L508.9 687.8 L504.5 687.1 L501.6 687.8 L499.4 683.4 L498.7 678.3 L496.5 674.6 L503 672.5 L511 671.5 L516 670 L512 667.5 L503 668.5 L492.8 668.8 L488.4 664.4 L485.5 661.5 L487 657.8 L484 654.1 L479.6 650.5 L476 646.8 L473 642.4 L477.5 636.2 L482.5 625Z" fill="#d2e9ab" stroke="#d2e9ab"/>
<path d="M531.2 710 L538.8 706.2 L550 707 L562.5 705.5 L571.2 706.2 L570 710 L560 712.5 L550 713.8 L540 713 L532.5 712.5Z" fill="#d2e9ab" stroke="#d2e9ab"/>
<path d="M590 682.5 L593.8 680 L593 685 L590 687.5Z" fill="#d2e9ab" stroke="#d2e9ab"/>
<path d="M553.8 636.2 L560 634.5 L561.2 638.8 L555 640Z" fill="#d2e9ab" stroke="#d2e9ab"/>
<path d="M555.8 648.8 L558.8 648 L559.5 653.8 L556.2 653.8Z" fill="#d2e9ab" stroke="#d2e9ab"/>
<path d="M406.2 555 L412.5 550 L422.5 551.2 L432.5 550 L443.8 550 L448.8 551.2 L452.5 558.8 L451.2 565 L456.2 570 L453.8 576.2 L450 578.8 L446.2 582.5 L445 588.8 L440 593 L438.5 594.5 L432.2 588.5 L426 582.2 L419.8 576 L413.5 569.5 L407.5 563.5Z" fill="#adadad" stroke="#adadad"/>
<path d="M446.2 582.5 L450 578.8 L453.8 576.2 L456.2 582.5 L461.2 586.2 L466.2 590 L463.8 593.8 L458.8 595 L457.5 601.2 L456.2 605 L451.2 600 L447.5 595 L445 588.8Z" fill="#adadad" stroke="#adadad"/>
<path d="M457.5 601.2 L458.8 595 L463.8 593.8 L468.8 593.8 L472.5 596.2 L473.8 605 L475 612.5 L480 618.8 L482.5 625 L477.5 636.2 L473.8 642.5 L468.8 636.2 L465 627.5 L462.5 620 L460 612.5 L457.5 606.2Z" fill="#adadad" stroke="#adadad"/>
<path d="M472.5 596.2 L476.2 598.8 L481.2 595 L486.2 591.2 L490 592.5 L496.2 592.5 L502.5 595 L506.2 600 L506.2 606.2 L500 610 L492.5 613.8 L485 617.5 L480 618.8 L475 612.5 L473.8 605Z" fill="#adadad" stroke="#adadad"/>
<path d="M466.2 590 L468.8 585 L473.8 580 L480 581.2 L485 585 L486.2 591.2 L481.2 595 L476.2 598.8 L472.5 596.2 L468.8 593.8Z" fill="#dcdcdc" stroke="#dcdcdc"/>
<path d="M589.7 592.2 L589.7 598.9 L595.8 599.6 L591.7 603.6 L587.7 606.7 L581 608 L574.3 609.4 L567.6 612.1 L560.9 614.5 L556.8 616.4 L555.5 620.4 L556.8 625.8 L565 630 L567.5 637.5 L568.8 645 L563.8 650 L570 652.5 L576.2 657.5 L578.8 665 L587.5 670 L596.2 672.5 L603.8 675 L612.5 676.2 L620 676.2 L622.5 673.8 L626.2 667.5 L630 662.5 L638.8 661.2 L647.5 663.8 L655 666.2 L662.5 666.2 L670 661.2 L677.5 655 L682.5 650 L690 646.2 L697.5 642.5 L701.2 640 L702.5 642.5 L703.8 650 L706.2 655 L710 652.5 L712.5 645 L710 641.2 L712.5 636.2 L720 633.8 L727.5 630 L735 627.5 L742.5 625 L750 621.2 L757.5 615 L765 607.5 L775 603.8 L782.5 598.8 L790 593.8 L800 590 L806.2 587.5 L808.8 590 L813.8 586.2 L812.5 582.5 L807.5 578.8 L802.5 575 L800 565 L795 557.5 L791.2 552.5 L793.8 545 L790 542.5 L780 541.2 L775 536.2 L772.5 530 L767.5 527.5 L760 525 L752.5 527.5 L745 531.2 L741.2 537.5 L736.2 543.8 L728.8 548.8 L720 551.2 L710 555 L697.5 558.8 L685 560 L672.5 558.8 L658.8 556.2 L647.5 560 L637.5 563.8 L627.5 570 L620 577.5 L615 585 L612.5 587.5 L600 590Z" fill="#fee795" stroke="#fee795"/>
<path d="M570.3 582.8 L562.2 582.8 L556.8 586.8 L552.8 590.9 L548.8 593.6 L554.2 594.9 L554.8 598.9 L552.1 604.3 L550.1 610.3 L556.8 613.7 L560.9 612.3 L564.9 609.7 L568.9 605.6 L574.3 601.6 L581 598.9 L586.4 598.3 L588 595.2 L586.4 592.2 L578.3 590.2 L573 586.8Z" fill="#fee795" stroke="#fee795"/>
<path d="M658.7 686.1 L663.7 680.8 L672.5 677.3 L679.5 674 L683.9 669.6 L687.4 666.3 L684.6 673.4 L681.7 680.4 L675.6 685.9 L668.5 688.5 L662 689Z" fill="#59c3bc" stroke="#59c3bc"/>
<path d="M396 715 L399 715 L399.5 718 L396.5 718Z" fill="#59c3bc" stroke="#59c3bc"/>
<path d="M224 76.8 L226.5 77.2 L226 79 L223.8 78.6Z" fill="#59c3bc" stroke="#59c3bc"/>
<path d="M418 277 L421 275.5 L424 278 L422.5 281.5 L419.5 281Z" fill="#59c3bc" stroke="#59c3bc"/>
</g>
<path d="M344.5 304.3 L346.2 302.5 L350.0 292.5 L350.5 285.0 L353.8 275.0 L356.2 267.5 L353.8 260.0 L352.5 250.0 L350.5 237.5 L350.0 230.0 L353.8 222.5 L358.8 218.8 L365.0 215.0 L363.0 207.5 L365.0 197.5 L367.0 190.0 L367.5 180.0 L371.2 176.2 L375.0 171.2 L377.5 165.0 L377.5 155.0 L380.0 146.2 L387.5 142.5 L387.5 136.2 L391.2 133.8 L397.5 130.0 L401.2 123.0 L400.0 123.8 L405.0 118.8 L411.2 121.2 L417.5 126.2 L422.5 123.8 L428.8 122.5 L432.5 117.5 L433.8 106.2 L436.2 100.0 L441.2 97.0 L447.5 98.8 L452.5 102.5 L454.5 108.8 L457.5 101.2 L462.0 100.0 L462.5 97.5 L460.9 96.7 M434.9 175.0 L436.2 174.5 L434.5 166.2 L431.2 155.0 L426.2 145.5 L422.5 136.2 L415.0 130.0 L405.0 126.2 L401.2 123.0 L397.5 130.0 L391.2 133.8 L387.5 136.2 L387.5 142.5 L380.0 146.2 L377.5 155.0 L377.5 165.0 L375.0 171.2 L371.2 176.2 L367.5 180.0 L367.0 190.0 L365.0 197.5 L363.0 207.5 L365.0 215.0 L358.8 218.8 L353.8 222.5 L350.0 230.0 L350.5 237.5 L352.5 250.0 L353.8 260.0 L356.2 267.5 L353.8 275.0 L350.5 285.0 L350.0 292.5 L346.2 302.5 L345.8 304.9 M493.8 258.8 L495.1 258.4 L492.5 252.5 L497.5 242.5 L502.5 230.0 L506.2 218.8 L506.2 210.0 L500.0 205.0 L492.5 197.5 L490.0 190.0 L485.0 182.5 L480.0 173.8 L480.0 166.2 L476.2 160.0 L472.5 152.5 L467.5 145.0 L468.8 137.5 L466.2 130.0 L460.0 123.8 L456.2 116.2 L454.5 108.8 L452.5 102.5 L447.5 98.8 L441.2 97.0 L436.2 100.0 L433.8 106.2 L432.5 117.5 L428.8 122.5 L422.5 123.8 L417.5 126.2 L411.2 121.2 L405.0 118.8 L400.0 123.8 L401.2 123.0 L405.0 126.2 L415.0 130.0 L422.5 136.2 L426.2 145.5 L431.2 155.0 L434.5 166.2 L436.2 174.5 L437.0 175.6 M320.9 378.6 L321.2 380.5 L330.0 380.0 L330.4 378.7 M160.2 373.0 L158.8 368.8 L153.8 368.8 L148.8 365.0 L151.2 361.2 L156.2 357.5 L157.2 355.6 M180.9 573.9 L180.0 575.0 L180.2 575.1 L185.9 580.7 L197.1 586.3 L208.3 590.5 L219.5 593.3 L230.7 597.5 L242.0 598.9 L241.2 598.8 L241.4 597.4 M298.5 572.6 L297.5 571.2 L293.8 566.2 L291.2 558.8 L295.0 552.5 L293.8 546.2 L296.2 540.0 L293.8 536.2 L292.5 531.2 L287.5 532.5 L285.0 531.2 L288.8 525.0 L295.0 520.0 L298.8 515.0 L305.0 512.5 L305.0 510.0 L305.0 503.8 L307.5 495.0 L311.2 487.5 L313.8 480.0 L302.5 478.0 L291.2 476.2 L286.2 476.2 L281.2 473.8 L278.8 467.5 L272.5 465.0 L267.5 466.2 L265.0 461.2 L257.5 456.2 L252.5 451.2 L250.0 446.2 L250.0 445.0 L248.9 445.3 M84.7 580.7 L84.9 582.1 L91.9 580.7 L96.1 584.9 L105.9 586.3 L112.9 589.1 L115.7 594.7 L111.5 600.3 L107.3 610.1 L103.1 618.5 L100.3 627.0 L94.7 632.6 L96.1 638.2 L91.9 645.2 L94.7 650.8 L91.9 655.0 L84.9 662.0 L85.6 664.9 M241.7 600.3 L242.0 598.9 L230.7 597.5 L219.5 593.3 L208.3 590.5 L197.1 586.3 L185.9 580.7 L180.2 575.1 L178.7 574.6 M84.2 664.9 L84.9 662.0 L91.9 655.0 L94.7 650.8 L91.9 645.2 L96.1 638.2 L94.7 632.6 L100.3 627.0 L103.1 618.5 L107.3 610.1 L111.5 600.3 L115.7 594.7 L112.9 589.1 L105.9 586.3 L96.1 584.9 L91.9 580.7 L84.9 582.1 L84.5 583.4 M303.4 406.4 L302.5 412.5 L301.2 421.2 L297.5 430.0 L295.0 438.8 L291.2 445.0 L288.8 452.5 L291.2 460.0 L288.8 467.5 L292.5 469.5 L291.2 476.2 L302.5 478.0 L313.8 480.0 L311.2 487.5 L307.5 495.0 L305.0 503.8 L305.0 510.0 L306.4 510.2 M308.2 510.5 L312.5 511.2 L316.2 508.8 L320.0 510.0 L327.5 512.5 L332.5 515.0 L340.0 513.8 L347.5 512.5 L355.0 510.0 L362.5 508.8 L368.8 511.2 L370.0 505.0 L366.2 500.0 L372.5 496.2 L378.8 491.2 L375.0 487.5 L368.8 483.8 L363.8 477.5 L360.0 470.0 L358.8 463.8 L366.2 460.0 L375.0 455.0 L382.5 451.2 L388.8 447.5 L386.2 440.0 L383.8 430.0 L381.2 421.2 L378.8 412.5 L380.0 403.8 L378.8 397.5 L378.7 397.4 M330.3 381.4 L330.0 380.0 L321.2 380.0 L321.1 381.9 M262.5 439.8 L262.5 441.2 L270.0 440.0 L277.5 441.2 L283.8 442.5 L286.2 446.2 L287.5 452.5 L290.0 451.2 L291.2 445.0 L295.0 438.8 L297.5 430.0 L300.8 421.2 L302.5 413.8 L302.5 407.5 L301.8 407.4 M251.1 444.1 L250.0 446.2 L252.5 451.2 L257.5 456.2 L265.0 461.2 L267.5 466.2 L272.5 465.0 L278.8 467.5 L281.2 473.8 L283.8 468.8 L288.8 466.2 L291.2 460.0 L290.0 455.0 L287.5 452.5 L286.2 446.2 L283.8 442.5 L277.5 441.2 L270.0 440.0 L262.5 441.2 L261.1 441.5 M283.8 468.8 L282.5 473.8 L286.2 476.2 L291.2 475.0 L292.5 469.5 L288.8 466.2 L283.8 468.8 M306.4 512.3 L305.0 512.5 L298.8 515.0 L295.0 520.0 L288.8 525.0 L285.0 531.2 L287.5 532.5 L292.5 531.2 L293.8 536.2 L297.5 540.0 L305.0 540.0 L310.0 536.2 L316.2 536.2 L320.0 541.2 L322.5 535.0 L327.5 532.5 L332.5 533.8 L333.8 530.0 L337.5 528.8 L338.8 523.8 L333.8 522.5 L328.8 518.8 L327.5 512.5 L320.0 510.0 L316.2 508.8 L312.5 511.2 L308.2 511.9 M419.1 460.9 L413.8 458.8 L407.5 460.0 L402.5 455.0 L395.0 452.5 L388.8 448.8 L382.5 451.2 L375.0 455.0 L366.2 460.0 L358.8 463.8 L360.0 470.0 L363.8 477.5 L368.8 483.8 L375.0 487.5 L378.8 491.2 L387.5 490.0 L392.5 485.0 L400.0 486.2 L407.5 487.5 L415.0 490.0 L417.5 486.2 L425.0 480.0 L432.5 471.2 L433.8 471.2 L427.5 466.2 L422.9 463.1 M378.8 491.2 L372.5 496.2 L367.0 500.5 L370.0 505.0 L368.8 511.2 L362.5 508.8 L355.0 510.0 L347.5 512.5 L340.0 513.8 L332.5 515.0 L328.0 513.8 L329.2 520.0 L332.5 523.0 L338.8 524.5 L343.8 523.8 L352.5 522.5 L360.0 521.2 L365.0 522.5 L373.8 526.2 L382.5 527.5 L392.5 527.5 L402.5 525.0 L410.5 522.0 L411.2 521.2 L413.8 515.0 L416.2 507.5 L418.8 501.2 L417.5 495.0 L415.0 488.8 L407.5 487.5 L400.0 486.2 L392.5 485.0 L387.5 490.0 L378.8 491.2 M409.5 523.9 L408.8 522.5 L402.5 525.0 L392.5 527.5 L380.0 527.5 L377.5 532.5 L379.2 542.0 L383.0 545.5 L390.0 546.0 L398.0 543.0 L402.5 537.5 L405.0 531.2 L411.2 527.5 L409.8 524.6 M380.3 397.8 L380.0 398.0 L380.0 403.8 L378.8 412.5 L381.2 421.2 L383.8 430.0 L386.2 440.0 L388.8 447.5 L395.0 452.5 L400.5 454.4 L405.0 458.8 L411.2 460.0 L412.4 457.6 M412.8 457.6 L419.6 459.5 M423.7 462.0 L427.5 465.0 L433.8 470.0 L441.2 472.5 L448.8 468.8 L456.2 471.2 L465.0 468.8 L475.0 471.2 L480.0 472.5 L481.2 463.8 L486.2 455.0 L490.0 446.2 L491.2 437.5 L487.5 430.0 L483.8 422.5 L485.0 423.8 L482.5 416.2 L478.8 408.8 L482.5 400.0 L480.0 390.0 L476.2 383.8 L473.8 378.8 L466.2 377.5 L455.0 380.0 L436.2 381.8 L434.8 381.4 M377.3 545.1 L377.5 545.0 L378.8 540.0 L377.5 532.5 L380.0 527.5 L373.8 526.2 L365.0 522.5 L360.0 521.2 L352.5 522.5 L343.8 523.8 L338.8 524.5 L337.5 528.8 L333.8 530.0 L332.5 533.8 L327.5 532.5 L322.5 535.0 L320.0 541.2 L316.2 536.2 L310.0 536.2 L305.0 540.0 L296.2 540.0 L293.8 546.2 L295.0 552.5 L291.2 558.8 L293.8 566.2 L297.5 571.2 L299.2 571.2 M469.7 311.1 L470.0 312.5 L473.8 311.2 L478.8 308.8 L486.2 311.2 L492.5 313.8 L500.0 312.5 L502.5 306.2 L500.0 300.0 L497.5 292.5 L498.8 285.0 L496.2 278.8 L494.3 279.2 M444.2 347.6 L445.0 348.8 L450.0 343.8 L460.0 341.2 L470.0 341.2 L480.0 340.0 L487.5 341.2 L495.0 343.8 L500.0 346.2 L506.2 342.5 L511.2 337.5 L512.5 331.2 L506.2 322.5 L505.0 316.2 L500.0 312.5 L492.5 313.8 L486.2 311.2 L478.8 308.8 L473.8 311.2 L470.0 312.5 L470.3 313.9 M447.4 364.8 L447.5 365.0 L457.5 367.5 L465.0 370.0 L466.2 377.5 L473.8 378.8 L478.8 383.0 L485.0 382.5 L490.0 377.5 L496.2 373.8 L495.0 365.0 L498.8 358.8 L502.0 352.5 L500.0 346.2 L495.0 343.8 L487.5 341.2 L480.0 340.0 L470.0 341.2 L460.0 341.2 L450.0 343.8 L445.0 348.8 L445.0 350.2 M417.5 486.2 L415.0 490.0 L417.5 495.0 L422.5 500.0 L430.0 502.5 L437.5 497.5 L443.8 493.8 L451.2 492.5 L460.0 490.0 L467.5 487.5 L473.8 486.2 L480.0 485.0 L478.8 480.0 L480.0 472.5 L475.0 471.2 L465.0 468.8 L456.2 471.2 L448.8 468.8 L441.2 472.5 L432.5 471.2 L425.0 480.0 L417.5 486.2 M417.5 495.0 L418.8 501.2 L416.2 507.5 L413.8 515.0 L411.2 522.5 L415.0 527.5 L421.2 532.5 L428.8 536.2 L437.5 537.5 L445.0 533.8 L455.0 530.0 L462.5 528.8 L467.5 525.0 L471.2 520.0 L473.8 512.5 L477.5 502.5 L482.5 495.0 L486.2 490.0 L480.0 485.0 L473.8 486.2 L467.5 487.5 L460.0 490.0 L451.2 492.5 L443.8 493.8 L437.5 497.5 L430.0 502.5 L422.5 500.0 L417.5 495.0 M573.0 519.6 L566.2 522.5 L560.0 520.0 L556.2 513.8 L552.5 505.0 L547.5 496.2 L541.2 490.0 L536.2 482.5 L530.0 477.5 L521.2 483.8 L513.8 488.8 L505.0 487.5 L495.0 488.8 L486.2 490.0 L482.5 495.0 L477.5 502.5 L473.8 512.5 L471.2 520.0 L467.5 525.0 L462.5 528.8 L466.2 532.5 L471.2 538.8 L477.5 543.8 L480.0 550.0 L486.2 551.2 L492.5 552.5 L497.5 557.5 L501.2 562.5 L507.5 562.5 L517.5 561.2 L527.5 560.0 L536.2 556.2 L543.8 551.2 L552.5 547.5 L562.5 548.8 L571.2 550.0 L571.3 548.6 M446.9 596.6 L447.5 595.0 L445.0 588.7 L440.0 593.0 L438.5 594.5 L432.3 588.5 L426.0 582.3 L419.7 576.0 L413.5 569.5 L407.5 563.5 L406.2 555.0 L412.5 550.0 L422.5 551.2 L432.5 550.0 L443.7 550.0 L448.7 551.2 L446.2 545.0 L443.7 537.5 L445.0 533.7 L437.5 537.5 L428.7 536.2 L421.2 532.5 L415.0 527.5 L411.2 522.5 L411.2 527.5 L405.0 531.2 L402.5 537.5 L398.0 543.0 L390.0 546.0 L383.0 545.5 L379.2 542.0 L378.6 545.8 M495.3 590.4 L496.2 590.0 L498.8 582.5 L501.2 576.2 L496.2 570.0 L493.8 562.5 L497.5 557.5 L492.5 552.5 L486.2 551.2 L480.0 550.0 L477.5 543.8 L471.2 538.8 L466.2 532.5 L462.5 528.8 L455.0 530.0 L445.0 533.8 L443.8 537.5 L446.2 545.0 L448.8 551.2 L452.5 558.8 L451.2 565.0 L456.2 570.0 L453.8 576.2 L456.2 582.5 L461.2 586.2 L466.2 590.0 L468.8 585.0 L473.8 580.0 L480.0 581.2 L485.0 585.0 L486.2 591.2 L490.0 592.5 L493.5 591.1 M570.8 551.4 L571.2 550.0 L562.5 548.8 L552.5 547.5 L543.8 551.2 L536.2 556.2 L527.5 560.0 L517.5 561.2 L507.5 562.5 L501.2 562.5 L497.5 557.5 L493.8 562.5 L496.2 570.0 L501.2 576.2 L498.8 582.5 L496.2 592.5 L502.5 595.0 L506.2 600.0 L506.2 606.2 L512.5 607.5 L520.0 605.0 L530.0 602.5 L540.0 600.0 L547.5 598.8 L548.5 596.3 M549.0 595.1 L550.0 592.5 L553.1 588.6 M555.6 586.0 L562.5 583.8 L567.2 581.4 M549.7 597.2 L547.5 598.8 L540.0 600.0 L530.0 602.5 L520.0 605.0 L512.5 607.5 L506.2 606.2 L500.0 610.0 L492.5 613.8 L485.0 617.5 L480.0 618.8 L482.5 625.0 L477.5 636.2 L473.0 642.4 L474.0 643.9 M548.8 610.8 L550.6 611.0 L552.8 605.9 L552.8 600.0 L552.8 599.8 M552.6 595.9 L552.5 595.0 L551.6 595.7 M406.2 555.0 L407.5 563.5 L413.5 569.5 L419.8 576.0 L426.0 582.2 L432.2 588.5 L438.5 594.5 L440.0 593.0 L445.0 588.8 L446.2 582.5 L450.0 578.8 L453.8 576.2 L456.2 570.0 L451.2 565.0 L452.5 558.8 L448.8 551.2 L443.8 550.0 L432.5 550.0 L422.5 551.2 L412.5 550.0 L406.2 555.0 M465.4 591.3 L466.2 590.0 L461.2 586.2 L456.2 582.5 L453.8 576.2 L450.0 578.8 L446.2 582.5 L445.0 588.8 L447.5 595.0 L448.5 596.4 M456.1 604.9 L456.2 605.0 L457.5 601.2 L458.8 595.0 L463.8 593.8 L464.7 592.4 M465.5 593.8 L463.8 593.8 L458.8 595.0 L457.5 601.2 L457.5 605.5 M472.4 640.8 L473.8 642.5 L477.5 636.2 L482.5 625.0 L480.0 618.8 L475.0 612.5 L473.8 605.0 L472.5 596.2 L468.8 593.8 L467.1 593.8 M493.7 592.5 L490.0 592.5 L486.2 591.2 L481.2 595.0 L476.2 598.8 L472.5 596.2 L473.8 605.0 L475.0 612.5 L480.0 618.8 L485.0 617.5 L492.5 613.8 L500.0 610.0 L506.2 606.2 L506.2 600.0 L502.5 595.0 L496.2 592.5 L494.8 592.5 M467.8 592.4 L468.8 593.8 L472.5 596.2 L476.2 598.8 L481.2 595.0 L486.2 591.2 L485.0 585.0 L480.0 581.2 L473.8 580.0 L468.8 585.0 L466.2 590.0 L467.1 591.3 M699.0 641.5 L701.2 640.0 L702.5 642.5 L703.8 650.0 L706.2 655.0 L710.0 652.5 L712.5 645.0 L710.0 641.2 L712.5 636.2 L720.0 633.8 L727.5 630.0 L735.0 627.5 L742.5 625.0 L750.0 621.2 L757.5 615.0 L765.0 607.5 L775.0 603.8 L782.5 598.8 L790.0 593.8 L800.0 590.0 L806.2 587.5 L808.8 590.0 L813.8 586.2 L812.5 582.5 L807.5 578.8 L802.5 575.0 L800.0 565.0 L795.0 557.5 L791.2 552.5 L793.8 545.0 L790.0 542.5 L780.0 541.2 L775.0 536.2 L772.5 530.0 L767.5 527.5 L760.0 525.0 L752.5 527.5 L745.0 531.2 L744.3 532.4 M738.8 540.6 L736.2 543.8 L733.0 546.0 M554.2 589.5 L552.8 590.9 L548.8 593.6 L550.9 594.1 M551.3 594.2 L553.9 594.8 M554.2 600.1 L552.1 604.3 L550.1 610.3 L552.0 611.3 M567.6 582.8 L562.2 582.8 L556.8 586.8 L556.4 587.2" fill="none" stroke="#23483d" stroke-opacity=".6" stroke-width=".85" stroke-linejoin="round" stroke-linecap="round"/>
<g>
<rect x="581.6" y="160.4" width="76.4" height="81.2" fill="#fff"/>
<text x="583.3" y="173.3" style="font:7.5px 'Liberation Sans',sans-serif;fill:#8a8a8a" textLength="21.5" lengthAdjust="spacingAndGlyphs">Malta</text>

<path d="M595 182.4 L600.1 180.1 L607.1 181.3 L612.9 184.8 L611.7 188.2 L604.8 189.9 L597.8 188.2Z" fill="#59c3bc"/>
<path d="M614 194 L618.7 192.9 L622.1 197.5 L627.9 198.7 L634.9 202.1 L640.7 206.8 L644.1 211.4 L643 216 L639.5 219 L632.6 218.4 L625.6 216 L619.8 212.6 L616.3 207.9 L615.2 202.1 L614 197.5Z" fill="#59c3bc"/>
<path d="M612.9 189.9 L615.4 189.4 L615.4 191.9 L613.3 191.7Z" fill="#59c3bc"/>
<text x="606.8" y="236.2" style="font:bold 13.5px 'Liberation Sans',sans-serif;fill:#333;text-anchor:middle">39.0</text>
<rect x="665" y="160.4" width="77" height="81.6" fill="#1b398a"/>
<path d="M716 160.4 L741.9 160.4 L741.9 238 L736.8 236.2 L732.2 233.9 L727.6 233.4 L722.9 234.6 L719.5 229.9 L722.9 224.1 L722.9 217.2 L720.6 210.2 L716 205.6 L712.5 198.7 L711.3 191.7 L709 184.8 L706.7 179 L709 173.2 L713.7 167.4Z" fill="#59c3bc"/>
<path d="M706.7 179 L709 184.8 L711.3 191.7 L712.5 198.7 L716 205.6 L720.6 210.2 L722.9 217.2 L722.9 224.1 L719.5 229.9 L714.8 233.4 L709 235.3 L703.2 233.4 L697.4 234.6 L694 233 L695.1 229.9 L700.9 226.5 L702.1 219.5 L699.8 212.6 L697.4 205.6 L696.3 198.7 L698.6 192.9 L702.1 185.9 L704.4 181.3Z" fill="#b3b3b3" stroke="#ddd" stroke-width=".6"/>
<text x="666.5" y="173.6" style="font:8px 'Liberation Sans',sans-serif;fill:#5a77b5;stroke:#fff;stroke-width:2px;paint-order:stroke;stroke-opacity:.85" textLength="52">Liechtenstein</text>
</g>
<g class="lab">
<text x="127" y="175.35">46.3</text>
<text x="330" y="286.65">41.2</text>
<text x="382.5" y="310.15">43.0</text>
<text x="466.2" y="241.65">39.8</text>
<text x="477.5" y="302.65">41.4</text>
<text x="489" y="336.35">37.4</text>
<text x="472.5" y="363.15">38.5</text>
<text x="331.7" y="371.35">42.5</text>
<text x="142" y="407.35">40.4</text>
<text x="284.5" y="437.65">43.8</text>
<text x="270.5" y="461.65">35.0</text>
<text x="300.7" y="480.35">35.6</text>
<text x="337.5" y="456.15">40.0</text>
<text x="436.5" y="438.85">35.5</text>
<text x="395.5" y="479.15">37.5</text>
<text x="448.5" y="488.85">36.0</text>
<text x="389" y="513.35">38.7</text>
<text x="445.7" y="523.35">37.4</text>
<text x="245" y="525.35">37.2</text>
<text x="308.5" y="535.15">42.8</text>
<text x="388" y="543.15">37.1</text>
<text x="388" y="567.35">34.8</text>
<text x="514.5" y="534.65">32.7</text>
<text x="474.5" y="571.85">35.5</text>
<text x="533.5" y="583.15">34.8</text>
<text x="362" y="602.15">32.8</text>
<text x="152.5" y="631.65">36.5</text>
<text x="82" y="633.25">39.3</text>
<text x="501.7" y="671.85">34.8</text>
<text x="685" y="615.65">30.2</text>
<text x="671.2" y="700.65">39.0</text>
<text x="422.7" y="714.85">39.0</text>
</g>
<circle cx="364.3" cy="575.5" r=".9" fill="#333"/><circle cx="366.3" cy="612" r=".9" fill="#333"/>
<circle cx="257.2" cy="149.2" r="51.3" fill="#fff" stroke="#484848" stroke-width="1.7"/>
<g style="font:32px 'Liberation Sans',sans-serif;fill:#4d4d4d;text-anchor:middle">
<text x="257.3" y="141.7" textLength="43.5" lengthAdjust="spacingAndGlyphs">EU</text><text x="257.3" y="174.1" textLength="64.5" lengthAdjust="spacingAndGlyphs">37.2</text></g>
<g class="leg"><text x="11" y="197" style="font-size:14px" textLength="37.6" lengthAdjust="spacingAndGlyphs">Years</text>
<rect x="11.6" y="205.10" width="24.1" height="13.6" fill="#1b398a" stroke="#000" stroke-opacity=".22" stroke-width=".8"/>
<text x="44.3" y="216.80" textLength="28.5" lengthAdjust="spacingAndGlyphs">≥ 42</text>
<rect x="11.6" y="221.55" width="24.1" height="13.6" fill="#3d99b6" stroke="#000" stroke-opacity=".22" stroke-width=".8"/>
<text x="44.3" y="233.25" textLength="59.5" lengthAdjust="spacingAndGlyphs">40 – &lt; 42</text>
<rect x="11.6" y="238.00" width="24.1" height="13.6" fill="#59c3bc" stroke="#000" stroke-opacity=".22" stroke-width=".8"/>
<text x="44.3" y="249.70" textLength="59.5" lengthAdjust="spacingAndGlyphs">38 – &lt; 40</text>
<rect x="11.6" y="254.45" width="24.1" height="13.6" fill="#95d7b8" stroke="#000" stroke-opacity=".22" stroke-width=".8"/>
<text x="44.3" y="266.15" textLength="59.5" lengthAdjust="spacingAndGlyphs">36 – &lt; 38</text>
<rect x="11.6" y="270.90" width="24.1" height="13.6" fill="#d2e9ab" stroke="#000" stroke-opacity=".22" stroke-width=".8"/>
<text x="44.3" y="282.60" textLength="59.5" lengthAdjust="spacingAndGlyphs">34 – &lt; 36</text>
<rect x="11.6" y="287.35" width="24.1" height="13.6" fill="#fee795" stroke="#000" stroke-opacity=".22" stroke-width=".8"/>
<text x="44.3" y="299.05" textLength="27" lengthAdjust="spacingAndGlyphs">&lt; 34</text>
<rect x="11.3" y="308.3" width="24.7" height="14.7" fill="#adadad"/>
<text x="40.4" y="320.5" textLength="114.5" lengthAdjust="spacingAndGlyphs">Data not available</text></g>
<text x="10" y="740.8" style="font:bold 21px 'Liberation Sans',sans-serif;fill:#77787b" textLength="84.5" lengthAdjust="spacingAndGlyphs">eurostat</text>
<rect x="97" y="727.5" width="20.5" height="14.3" fill="#213f9d"/>
<circle cx="107.2" cy="734.6" r="4.2" fill="none" stroke="#e8c930" stroke-width="1.3" stroke-dasharray="1.1 1.1"/>
<g class="foot">
<text x="10.5" y="770" textLength="132" lengthAdjust="spacingAndGlyphs">Source dataset: lfsi_dwl_a</text>
<text x="809" y="755.9" text-anchor="end" textLength="330" lengthAdjust="spacingAndGlyphs">Administrative boundaries: © EuroGeographics © OpenStreetMap</text>
<text x="809" y="770" text-anchor="end" textLength="206.5" lengthAdjust="spacingAndGlyphs">Cartography: Eurostat – IMAGE, 07/2025</text>
</g>
<path d="M746.5 700.4 L760.7 700.4 L754.1 710.2 L727.8 741.4 L714.6 737.7Z" fill="url(#gy)"/>
<path d="M760.7 700.4 L766.2 703.7 L780.5 721.2 L771.3 721.7 L754.1 710.2Z" fill="url(#gg)"/>
<path d="M801.3 679.1 L815.6 679.1 L780.5 721.2 L772.8 712.4Z" fill="url(#gb)"/>
</svg></div></body></html>
